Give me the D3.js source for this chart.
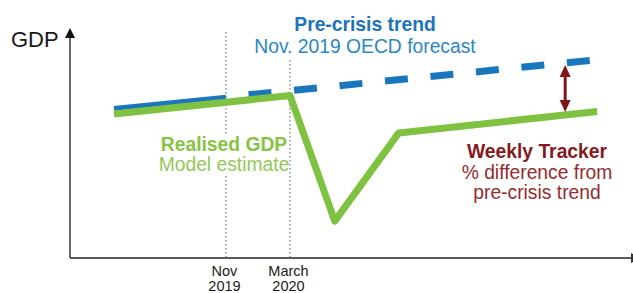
<!DOCTYPE html>
<html>
<head>
<meta charset="utf-8">
<script src="https://cdn.jsdelivr.net/npm/d3@7"></script>
<style>
  html, body { margin: 0; padding: 0; background: #fff; }
  svg { display: block; font-family: "Liberation Sans", Arial, sans-serif; }
</style>
</head>
<body>
<svg id="chart" width="633" height="293"></svg>
<script>
// ---- data (months relative to Nov 2019; GDP index, conceptual) ----
const tickMonths = [0, 4];
const tickLabels = [["Nov", "2019"], ["March", "2020"]];

const trendSolidMonths = [-7, 0];
const trendSolidValues = [66.5, 71.5];
const trendDashedMonths = [0, 23];
const trendDashedValues = [71.5, 88];

const realisedMonths = [-7, 4, 6.8, 10.8, 23.2];
const realisedValues = [64, 72.2, 16.4, 55.6, 65.1];

const trackerMonth = [21.2];

const trendTitle = ["Pre-crisis trend", "Nov. 2019 OECD forecast"];
const realisedTitle = ["Realised GDP", "Model estimate"];
const trackerTitle = ["Weekly Tracker", "% difference from", "pre-crisis trend"];
const yLabel = ["GDP"];

// ---- scales ----
const svg = d3.select("#chart");
const x = d3.scaleLinear().domain([-9.75, 25.44]).range([70, 633]);
const y = d3.scaleLinear().domain([0, 100]).range([258, 33]);

const blue = "#1b77bd", green = "#7fc241", red = "#7e1518";
const line = d3.line().x(d => x(d[0])).y(d => y(d[1]));
const zip = (a, b) => a.map((v, i) => [v, b[i]]);

// dotted verticals
svg.selectAll("line.vref").data(tickMonths).join("line")
  .attr("class", "vref")
  .attr("x1", d => x(d)).attr("x2", d => x(d))
  .attr("y1", 32).attr("y2", 258)
  .attr("stroke", "#9a9a9a").attr("stroke-width", 1.6)
  .attr("stroke-dasharray", "1.6,2.4");

// white boxes behind annotation text
svg.append("rect").attr("x", 248).attr("y", 14).attr("width", 236).attr("height", 44).attr("fill", "#fff");
svg.append("rect").attr("x", 155).attr("y", 134).attr("width", 134).attr("height", 42).attr("fill", "#fff");

// axes
svg.append("line").attr("x1", x.range()[0]).attr("x2", x.range()[0])
  .attr("y1", y(0)).attr("y2", 36).attr("stroke", "#5a5a5a").attr("stroke-width", 1.8);
svg.append("line").attr("x1", x.range()[0]).attr("x2", 632)
  .attr("y1", y(0)).attr("y2", y(0)).attr("stroke", "#5a5a5a").attr("stroke-width", 1.8);
svg.append("path").attr("d", "M70,28 L75,38 L65,38 Z").attr("fill", "#111");
svg.append("path").attr("d", "M641,258 L631,253 L631,263 Z").attr("fill", "#333");

// x tick labels
const tl = svg.selectAll("text.tick").data(tickMonths).join("text")
  .attr("class", "tick")
  .attr("text-anchor", "middle")
  .attr("font-size", 14.5)
  .attr("fill", "#1a1a1a");
tl.each(function(d, i) {
  const t = d3.select(this);
  tickLabels[i].forEach((s, j) => {
    t.append("tspan").attr("x", x(d) - 1.5).attr("y", 275.5 + j * 15).text(s);
  });
});

// pre-crisis trend
svg.append("path").datum(zip(trendSolidMonths, trendSolidValues))
  .attr("d", line).attr("fill", "none").attr("stroke", blue).attr("stroke-width", 5);
svg.append("path").datum(zip(trendDashedMonths, trendDashedValues))
  .attr("d", line).attr("fill", "none").attr("stroke", blue).attr("stroke-width", 7)
  .attr("stroke-dasharray", "23,22.7").attr("stroke-dashoffset", 23);

// realised GDP
svg.append("path").datum(zip(realisedMonths, realisedValues))
  .attr("d", line).attr("fill", "none").attr("stroke", green).attr("stroke-width", 7)
  .attr("stroke-linejoin", "round");

// tracker double arrow
const interp = (ms, vs, m) => {
  for (let i = 0; i < ms.length - 1; i++) {
    if (m >= ms[i] && m <= ms[i + 1]) return vs[i] + (vs[i + 1] - vs[i]) * (m - ms[i]) / (ms[i + 1] - ms[i]);
  }
  return vs[vs.length - 1];
};
trackerMonth.forEach(m => {
  const ax = x(m);
  const yTop = y(interp(trendDashedMonths, trendDashedValues, m)) + 2;
  const yBot = y(interp(realisedMonths, realisedValues, m)) - 3;
  svg.append("line").attr("x1", ax).attr("x2", ax).attr("y1", yTop + 8).attr("y2", yBot - 8)
    .attr("stroke", red).attr("stroke-width", 3);
  svg.append("path").attr("d", `M${ax},${yTop} L${ax + 5.5},${yTop + 12} L${ax - 5.5},${yTop + 12} Z`).attr("fill", red);
  svg.append("path").attr("d", `M${ax},${yBot} L${ax + 5.5},${yBot - 12} L${ax - 5.5},${yBot - 12} Z`).attr("fill", red);
});

// annotation text blocks
function block(lines, cx, y0, dy, colors, weights, size) {
  const g = svg.append("g");
  lines.forEach((s, i) => {
    g.append("text").attr("x", cx).attr("y", y0 + i * dy)
      .attr("text-anchor", "middle").attr("font-size", size)
      .attr("font-weight", weights[i]).attr("fill", colors[i]).text(s);
  });
}
block(trendTitle, 365, 31, 22, ["#1c74b9", "#2a86c8"], ["bold", "normal"], 19.3);
block(realisedTitle, 224, 151, 20, ["#86c443", "#92c957"], ["bold", "normal"], 19.3);
block(trackerTitle, 537, 158, 20.5, ["#841a20", "#982a2f", "#982a2f"], ["bold", "normal", "normal"], 19.3);

svg.append("text").attr("x", 11).attr("y", 47).attr("font-size", 22).attr("fill", "#1a1a1a").text(yLabel[0]);
</script>
</body>
</html>
